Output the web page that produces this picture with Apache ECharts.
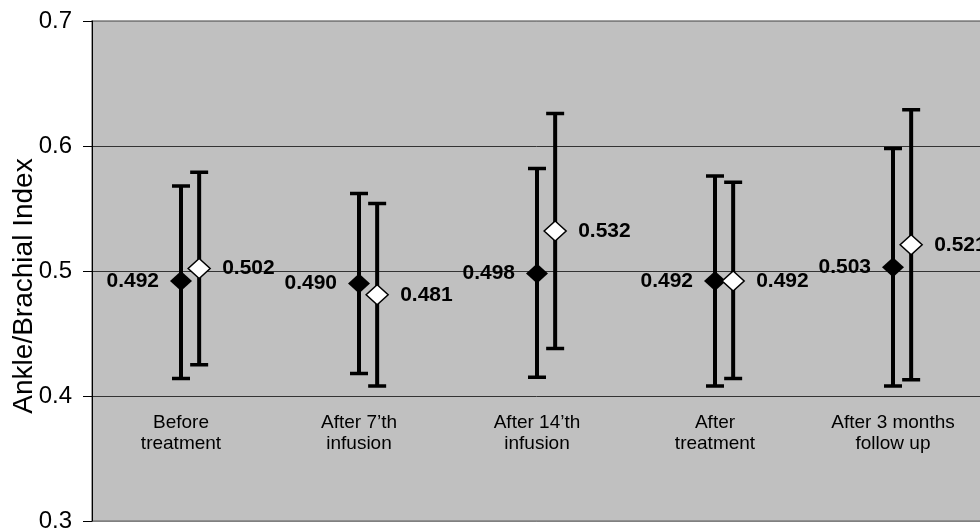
<!DOCTYPE html>
<html>
<head>
<meta charset="utf-8">
<script src="https://cdn.jsdelivr.net/npm/echarts@6/dist/echarts.min.js"></script>
<style>
  html, body { margin: 0; padding: 0; background: #fff; }
  #chart { width: 980px; height: 528px; }
</style>
</head>
<body>
<div id="chart"></div>
<script>
const categories = ['Before\ntreatment', 'After 7’th\ninfusion', 'After 14’th\ninfusion', 'After\ntreatment', 'After 3 months\nfollow up']

// filled diamonds
const filledMean = [0.492, 0.490, 0.498, 0.492, 0.503]
const filledLow = [0.414, 0.418, 0.415, 0.408, 0.408]
const filledHigh = [0.568, 0.562, 0.582, 0.576, 0.598]

// open diamonds
const openMean = [0.502, 0.481, 0.532, 0.492, 0.521]
const openLow = [0.425, 0.408, 0.438, 0.414, 0.413]
const openHigh = [0.579, 0.554, 0.626, 0.571, 0.629]

const yMin = 0.3
const yMax = 0.7
const yStep = 0.1

const FONT = '"Liberation Sans", Arial, sans-serif'

const toRows = (mean, low, high) => mean.map((m, i) => [i, m, low[i], high[i]])

// shift: fraction of the category band, labelSide: 'left' | 'right'
const makeRender = (shift, filled, labelSide) => (params, api) => {
  const i = api.value(0)
  const mean = api.value(1)
  const band = api.size([1, 0])[0]
  const dx = shift * band
  const pm = api.coord([i, mean])
  const pl = api.coord([i, api.value(2)])
  const ph = api.coord([i, api.value(3)])
  const x = pm[0] + dx
  const capW = 9
  const hw = 11
  const hh = 10
  const stroke = { stroke: '#000', lineWidth: 4 }
  const capStroke = { stroke: '#000', lineWidth: 3.5 }
  return {
    type: 'group',
    children: [
      { type: 'line', shape: { x1: x, y1: ph[1], x2: x, y2: pl[1] }, style: stroke },
      { type: 'line', shape: { x1: x - capW, y1: ph[1], x2: x + capW, y2: ph[1] }, style: capStroke },
      { type: 'line', shape: { x1: x - capW, y1: pl[1], x2: x + capW, y2: pl[1] }, style: capStroke },
      {
        type: 'polygon',
        shape: { points: [[x, pm[1] - hh], [x + hw, pm[1]], [x, pm[1] + hh], [x - hw, pm[1]]] },
        style: filled ? { fill: '#000' } : { fill: '#fff', stroke: '#000', lineWidth: 1.5 }
      },
      {
        type: 'text',
        style: {
          text: mean.toFixed(3),
          x: labelSide === 'left' ? x - 22 : x + 23,
          y: pm[1],
          align: labelSide === 'left' ? 'right' : 'left',
          verticalAlign: 'middle',
          font: 'bold 21px ' + FONT,
          fill: '#000'
        }
      }
    ]
  }
}

const chart = echarts.init(document.getElementById('chart'))
const option = {
  animation: false,
  grid: {
    left: 92,
    top: 21,
    width: 890,
    bottom: 7,
    outerBoundsMode: 'none',
    containLabel: false,
    show: true,
    backgroundColor: '#c0c0c0',
    borderColor: '#808080',
    borderWidth: 1.5
  },
  xAxis: {
    type: 'category',
    data: categories,
    offset: -125,
    axisLine: { show: false },
    axisTick: { show: false },
    axisLabel: {
      interval: 0,
      margin: 16,
      fontFamily: FONT,
      fontSize: 19,
      lineHeight: 21,
      color: '#000'
    }
  },
  yAxis: {
    type: 'value',
    min: yMin,
    max: yMax,
    interval: yStep,
    name: 'Ankle/Brachial Index',
    nameLocation: 'middle',
    nameGap: 54,
    nameMoveOverlap: false,
    nameTextStyle: {
      fontFamily: FONT,
      fontSize: 28,
      color: '#000',
      padding: [0, 30, 0, 0]
    },
    axisLine: { show: true, lineStyle: { color: '#000', width: 1 } },
    axisTick: { show: true, length: 9, lineStyle: { color: '#000' } },
    axisLabel: {
      margin: 20,
      fontFamily: FONT,
      fontSize: 24,
      color: '#000',
      formatter: v => v.toFixed(1)
    },
    splitLine: {
      show: true,
      lineStyle: { color: ['#808080', '#333', '#333', '#333', '#808080'], width: 1 }
    }
  },
  series: [
    {
      type: 'custom',
      name: 'filled',
      data: toRows(filledMean, filledLow, filledHigh),
      encode: { x: 0, y: [1, 2, 3] },
      renderItem: makeRender(0, true, 'left'),
      z: 2
    },
    {
      type: 'custom',
      name: 'open',
      data: toRows(openMean, openLow, openHigh),
      encode: { x: 0, y: [1, 2, 3] },
      renderItem: makeRender(0.102, false, 'right'),
      z: 3
    }
  ]
}
chart.setOption(option)
</script>
</body>
</html>
